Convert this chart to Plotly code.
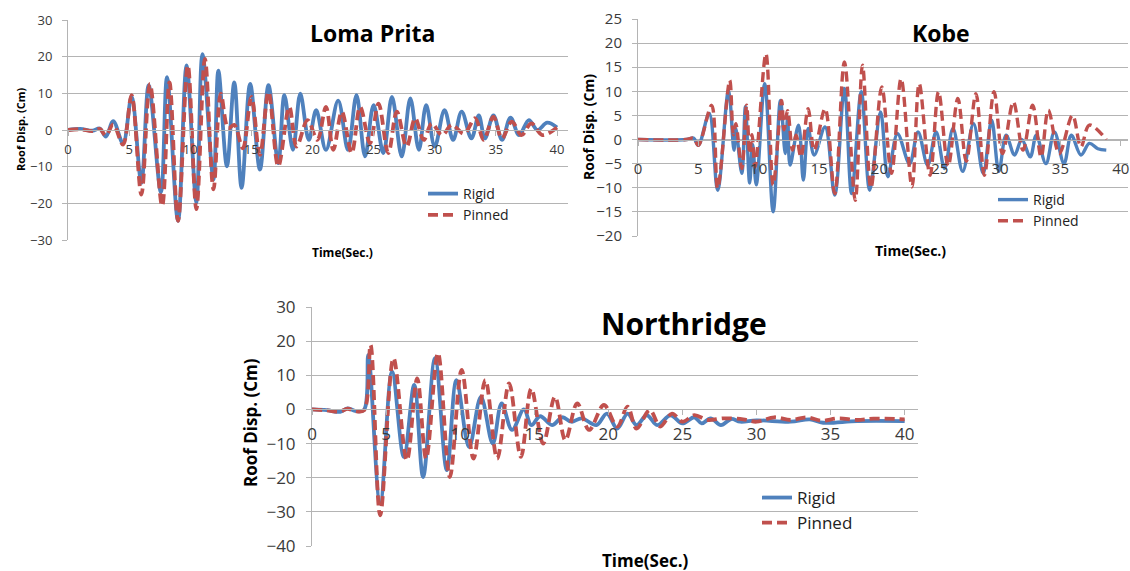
import plotly.graph_objects as go

W, H = 1130, 571

# ---------------- data ----------------
loma_rigid_t = [0, 1.0, 2.0, 2.6, 3.1, 3.7, 4.5, 5.2, 6.0, 6.6, 7.6, 8.1, 9.0, 9.7, 10.5, 11.0, 11.9, 12.3, 13.0, 13.6,
                14.2, 14.9, 15.7, 16.4, 17.2, 17.7, 18.4, 19.0, 19.7, 20.3, 21.1, 22.1, 22.9, 23.6, 24.3, 25.0, 25.8, 26.5,
                27.3, 28.0, 28.7, 29.3, 30.0, 30.8, 31.5, 32.2, 33.0, 33.6, 34.1, 34.8, 35.5, 36.2, 36.9, 37.7, 38.4, 39.2, 40.0]
loma_rigid_y = [0, 0.3, -0.2, 0.4, -1.8, 2.4, -3.6, 9.0, -14.4, 12.2, -17.0, 14.4, -24.8, 17.6, -19.8, 20.7, -13.5, 16.2, -9.9, 13.0,
                -15.8, 12.6, -10.8, 12.2, -9.0, 9.5, -5.4, 9.9, -2.7, 5.4, -5.4, 8.0, -5.4, 9.5, -7.2, 6.8, -6.3, 9.0,
                -7.2, 8.6, -5.4, 6.8, -4.5, 5.4, -2.7, 5.0, -2.3, 4.0, -2.3, 4.0, -2.7, 3.4, -1.4, 2.7, 0.0, 2.0, 0.7]
loma_pinned_t = [0, 1.0, 2.0, 2.6, 3.1, 3.7, 4.5, 5.2, 6.0, 6.7, 7.7, 8.3, 9.0, 9.8, 10.5, 11.2, 11.9, 12.5, 13.1, 13.6,
                 14.3, 15.0, 15.7, 16.4, 17.2, 18.1, 18.7, 19.6, 20.4, 21.1, 21.7, 22.4, 23.2, 23.9, 24.7, 25.4, 26.2, 26.9,
                 27.7, 28.4, 29.1, 29.75, 30.6, 31.4, 32.4, 33.3, 34.0, 34.8, 35.5, 36.3, 37.1, 37.9, 38.8, 40.0]
loma_pinned_y = [0, 0.2, -0.3, 0.3, -1.5, 1.5, -4.0, 9.5, -17.6, 12.6, -20.7, 13.0, -24.8, 17.6, -21.6, 19.4, -16.2, 9.9, 0.5, 1.4,
                 -5.0, 9.0, -6.8, 10.4, -9.9, 6.3, -4.5, 2.7, -2.7, 6.3, -5.4, 5.0, -6.3, 6.3, -3.6, 7.2, -6.3, 5.0,
                 -4.5, 3.2, -2.7, 1.8, -1.4, 1.4, -1.0, 3.2, -2.7, 3.6, -2.3, 2.3, -1.4, 1.8, -1.4, 0.7]

kobe_rigid_t = [0, 4.0, 4.6, 5.0, 5.9, 6.6, 7.5, 7.95, 8.1, 8.6, 8.9, 9.25, 9.5, 9.8, 10.5, 11.2, 11.8, 12.2, 12.4, 12.6,
                13.3, 13.7, 14.1, 14.6, 15.5, 16.3, 17.1, 17.7, 18.5, 19.2, 20.1, 20.7, 21.5, 22.5, 23.2, 24.0, 24.7, 25.4,
                26.1, 26.9, 27.8, 28.6, 29.3, 29.9, 30.5, 31.2, 31.8, 32.5, 33.0, 33.8, 34.5, 35.3, 35.9, 36.7, 37.4, 38.1, 38.8]
kobe_rigid_y = [0, 0, 0.3, -1.2, 5.4, -10.5, 10.2, -2.2, 2.3, -7.0, 6.8, -9.0, -1.0, -9.4, 11.6, -15.0, 8.1, -2.9, 4.7, -5.3,
                3.0, -8.4, 2.3, -3.2, 2.6, -11.5, 10.6, -11.2, 9.9, -10.5, 5.7, -7.7, 1.2, -5.0, 1.6, -5.3, 1.6, -6.0,
                2.3, -6.6, 3.3, -7.0, 4.0, -6.6, 0.9, -3.2, 0.0, -3.6, 0.9, -5.0, 1.6, -5.0, 0.9, -3.2, -0.8, -1.9, -2.2]
kobe_pinned_t = [0, 4.0, 4.6, 5.0, 6.1, 6.6, 7.6, 7.9, 8.1, 8.6, 9.0, 9.25, 9.45, 9.7, 10.6, 11.2, 11.9, 12.1, 12.4, 12.8,
                 13.1, 13.5, 14.1, 14.6, 15.5, 16.3, 17.1, 18.0, 18.6, 19.3, 20.2, 21.0, 21.8, 22.7, 23.3, 24.2, 24.9, 25.7,
                 26.5, 27.2, 28.0, 28.7, 29.5, 30.2, 31.1, 31.9, 32.7, 33.4, 34.0, 34.9, 36.0, 36.7, 37.4, 38.8]
kobe_pinned_y = [0, 0, 0.3, -1.2, 7.1, -10.1, 12.3, 1.0, 3.3, -6.0, 7.1, -2.9, 1.0, -5.7, 17.8, -9.4, 8.1, 2.0, 6.0, -2.2,
                 0.9, -3.6, 6.4, -2.2, 6.4, -11.2, 16.1, -12.6, 15.4, -10.0, 10.9, -7.0, 12.6, -9.8, 11.6, -7.4, 9.9, -5.5,
                 8.5, -4.5, 9.5, -7.4, 9.9, -2.9, 7.8, -2.2, 7.1, -3.6, 6.1, -2.9, 5.0, -1.5, 3.0, 0.0]

north_rigid_t = [0, 1.0, 1.9, 2.4, 2.9, 3.5, 3.8, 4.6, 5.4, 6.2, 6.9, 7.5, 8.3, 9.1, 9.75, 10.6, 11.4, 12.2, 12.8, 13.5,
                 14.3, 14.8, 15.4, 16.2, 16.9, 17.5, 18.2, 19.2, 19.9, 20.6, 21.3, 21.9, 22.6, 23.3, 24.2, 25.0, 25.8, 26.3,
                 26.9, 27.6, 28.3, 28.9, 30.0, 32.3, 33.6, 34.5, 36.8, 40.0]
north_rigid_y = [0, -0.2, -0.7, 0.3, -0.4, -0.2, 16.0, -27.6, 11.1, -13.9, 7.2, -19.8, 15.0, -17.8, 8.6, -11.0, 3.7, -10.0, 1.8, -6.0,
                 0.0, -4.6, -2.0, -4.6, -2.3, -3.6, -2.6, -4.6, -1.2, -5.6, -1.2, -4.6, -1.7, -4.6, -1.7, -4.1, -2.3, -4.1,
                 -2.6, -4.6, -2.8, -3.6, -3.2, -3.6, -2.9, -3.9, -3.4, -3.4]
north_pinned_t = [0, 1.0, 1.9, 2.4, 2.9, 3.5, 3.95, 4.6, 5.5, 6.4, 7.1, 7.7, 8.5, 9.3, 10.1, 10.9, 11.7, 12.5, 13.3, 14.1,
                  14.8, 15.6, 16.4, 17.1, 17.9, 18.7, 19.7, 20.6, 21.3, 21.9, 22.8, 23.5, 24.3, 25.0, 25.8, 26.7, 27.8, 29.1,
                  30.0, 31.2, 32.3, 33.4, 34.4, 35.5, 36.8, 37.9, 40.0]
north_pinned_y = [0, -0.3, -0.6, 0.2, -0.5, -0.3, 18.9, -31.0, 15.0, -14.9, 9.1, -14.4, 16.5, -19.8, 11.6, -14.4, 8.6, -14.4, 7.6, -13.9,
                  6.1, -10.0, 3.7, -9.0, 1.8, -6.0, 1.3, -5.0, 0.8, -5.6, -0.2, -5.0, -1.2, -3.6, -1.7, -3.1, -2.6, -2.9,
                  -3.6, -2.3, -3.1, -2.3, -3.3, -2.6, -3.1, -2.7, -2.9]

series_names = ["Rigid", "Pinned"]
panel_titles = ["Loma Prita", "Kobe", "Northridge"]
x_title = "Time(Sec.)"
y_title = "Roof Disp. (Cm)"

# ---------------- styling ----------------
BLUE = "#4F81BD"
RED = "#C0504D"
GRID = "#b4b4b4"
TICKTXT = "#3a3a3a"
FONT = "Open Sans"

panels = [
    dict(t=(loma_rigid_t, loma_rigid_y, loma_pinned_t, loma_pinned_y), xpx=(68, 568), ypx=(20, 240), yr=(-30, 30),
         dy=10, xmax=40.9, tick=13, lw=3.8, title=(372, 33, 23), xt=(342, 252, 12), yt=(21, 130, 11),
         leg=(423, 178, 14), stand=(2, 7)),
    dict(t=(kobe_rigid_t, kobe_rigid_y, kobe_pinned_t, kobe_pinned_y), xpx=(638, 1128), ypx=(19, 236), yr=(-20, 25),
         dy=5, xmax=40.6, tick=15, lw=3.4, title=(941, 33, 23), xt=(910, 250, 14), yt=(588, 127, 14),
         leg=(993, 184, 14), stand=(10, 7)),
    dict(t=(north_rigid_t, north_rigid_y, north_pinned_t, north_pinned_y), xpx=(312, 918), ypx=(307, 546), yr=(-40, 30),
         dy=10, xmax=40.9, tick=17, lw=3.8, title=(684, 323, 30), xt=(645, 560, 17), yt=(250, 423, 17),
         leg=(757, 480, 17), stand=(4, 7)),
]

fig = go.Figure()
annotations = []
layout = {}

for i, p in enumerate(panels):
    sfx = "" if i == 0 else str(i + 1)
    rt, ry, pt, py = p["t"]
    legname = "legend" + sfx
    fig.add_trace(go.Scatter(x=rt, y=ry, mode="lines", name=series_names[0],
                             line=dict(color=BLUE, width=p["lw"], shape="spline", smoothing=1.0),
                             xaxis="x" + sfx, yaxis="y" + sfx, legend=legname))
    fig.add_trace(go.Scatter(x=pt, y=py, mode="lines", name=series_names[1],
                             line=dict(color=RED, width=p["lw"], shape="spline", smoothing=1.0, dash="10px,5px"),
                             xaxis="x" + sfx, yaxis="y" + sfx, legend=legname))

    x0, x1 = p["xpx"]
    ytop, ybot = p["ypx"]
    ydom = [1 - ybot / H, 1 - ytop / H]
    ymin, ymax = p["yr"]
    zero_pos = ydom[0] + (0 - ymin) / (ymax - ymin) * (ydom[1] - ydom[0])

    layout["xaxis" + sfx] = dict(domain=[x0 / W, x1 / W], range=[0, p["xmax"]], anchor="free", position=zero_pos,
                                 tick0=0, dtick=5, showgrid=False, zeroline=False, showline=True, linecolor=GRID,
                                 linewidth=1, ticks="outside", ticklen=5, tickcolor=GRID,
                                 ticklabelstandoff=p["stand"][0], automargin=False,
                                 tickfont=dict(family=FONT, size=p["tick"], color=TICKTXT), fixedrange=True)
    layout["yaxis" + sfx] = dict(domain=ydom, range=[ymin, ymax], anchor="x" + sfx, tick0=0, dtick=p["dy"],
                                 showgrid=True, gridcolor=GRID, gridwidth=1, zeroline=False, showline=True,
                                 linecolor=GRID, linewidth=1, ticks="outside", ticklen=5, tickcolor=GRID,
                                 ticklabelstandoff=p["stand"][1], automargin=False,
                                 tickfont=dict(family=FONT, size=p["tick"], color=TICKTXT), fixedrange=True)
    lx, ly, lfs = p["leg"]
    layout[legname] = dict(x=lx / W, y=1 - ly / H, xanchor="left", yanchor="top", bgcolor="rgba(0,0,0,0)",
                           font=dict(family=FONT, size=lfs, color="#222222"), tracegroupgap=0)

    tx, ty, tfs = p["title"]
    annotations.append(dict(x=tx / W, y=1 - ty / H, xref="paper", yref="paper", text="<b>%s</b>" % panel_titles[i],
                            showarrow=False, xanchor="center", yanchor="middle",
                            font=dict(family=FONT, size=tfs, color="black")))
    ax, ay, afs = p["xt"]
    annotations.append(dict(x=ax / W, y=1 - ay / H, xref="paper", yref="paper", text="<b>%s</b>" % x_title,
                            showarrow=False, xanchor="center", yanchor="middle",
                            font=dict(family=FONT, size=afs, color="black")))
    bx, by, bfs = p["yt"]
    annotations.append(dict(x=bx / W, y=1 - by / H, xref="paper", yref="paper", text="<b>%s</b>" % y_title,
                            showarrow=False, xanchor="center", yanchor="middle", textangle=-90,
                            font=dict(family=FONT, size=bfs, color="black")))

fig.update_layout(width=W, height=H, margin=dict(l=0, r=0, t=0, b=0, pad=0, autoexpand=False),
                  paper_bgcolor="white", plot_bgcolor="white", showlegend=True, annotations=annotations, **layout)

post = ("document.documentElement.style.margin='0';document.body.style.margin='0';"
        "document.body.style.overflow='hidden';document.documentElement.style.overflow='hidden';"
        "var gd=document.getElementById('{plot_id}');gd.style.position='absolute';"
        "gd.style.left='0px';gd.style.top='0px';")
fig.write_html("out.html", config=dict(displayModeBar=False), post_script=post)
